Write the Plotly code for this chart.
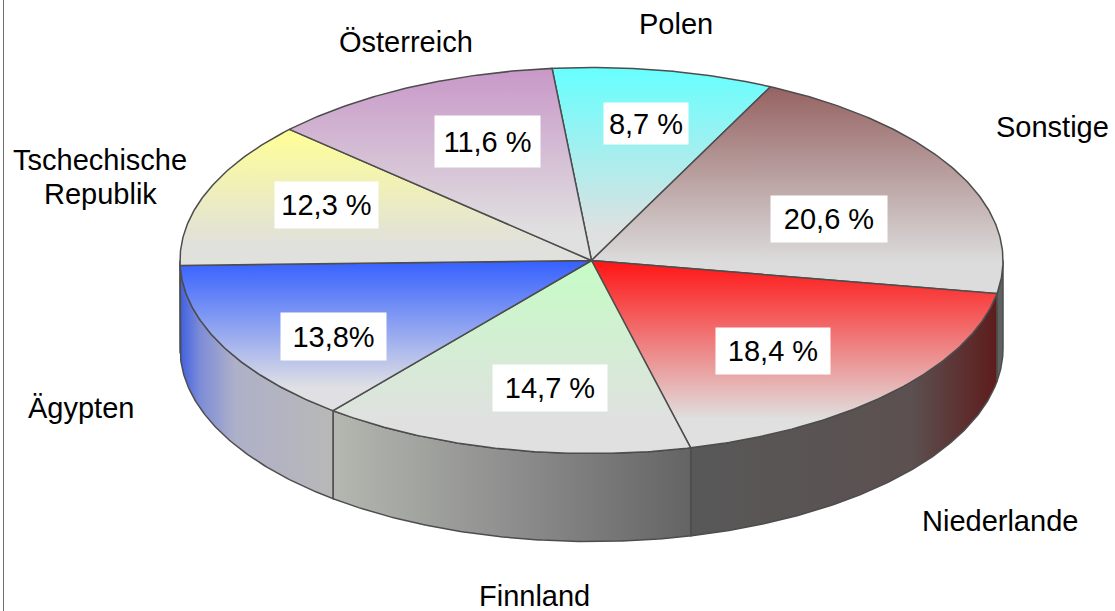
import numpy as np
import plotly.graph_objects as go

# ---- data (clockwise, starting at the Polen slice) ----
categories = ["Polen", "Sonstige", "Niederlande", "Finnland", "Ägypten", "Tschechische\nRepublik", "Österreich"]
values = [8.7, 20.6, 18.4, 14.7, 13.8, 12.3, 11.6]
value_labels = ["8,7 %", "20,6 %", "18,4 %", "14,7 %", "13,8%", "12,3 %", "11,6 %"]

# ---- style ----
top_colors = ["#66ffff", "#966262", "#ff1414", "#c6fcc6", "#3560ff", "#ffff96", "#c898c8"]
top_end = ["#dfe0e0", "#dcdcdc", "#e0e0e0", "#e0e0e0", "#e0e0e4", "#e0e0dc", "#e0e0e0"]
wall_scales = [
    [[0, "#666666"], [1, "#666666"]],
    [[0, "#5f6060"], [1, "#5f6060"]],
    [[0, "#585858"], [0.72, "#5c5050"], [1, "#5e1c1c"]],
    [[0, "#b4b8b0"], [0.5, "#8e8e8e"], [1, "#646464"]],
    [[0, "#3f60e0"], [0.13, "#7d8cd8"], [0.36, "#aeb0c8"], [1, "#b8b8b8"]],
    [[0, "#3f60e0"], [1, "#3f60e0"]],
    [[0, "#666666"], [1, "#666666"]],
]
CX, CY, A, B, DEPTH = 591.5, 260.5, 411.5, 193, 88
START = -5.5
EDGE = "#4d4d4d"
FONT = "Liberation Sans, Arial, sans-serif"
FS = 29
LINE_GAP = 34

label_pos = [(676, 24), (1052, 127), (1000, 521), (534, 596), (81, 408), (100, 177), (406, 42)]
box_pos = [(646, 123.5, 84, 41), (829, 218.5, 116, 46), (773, 350.5, 114, 46), (550, 388, 114, 46),
           (333.5, 336.5, 105, 47), (326.5, 205, 103, 46), (487.5, 141.5, 105, 51)]


def arc(a0, a1, dy=0.0):
    t = np.radians(np.linspace(a0, a1, max(int(abs(a1 - a0) * 2), 2)))
    return CX + A * np.sin(t), CY - B * np.cos(t) + dy


total = sum(values)
edges = START + np.concatenate([[0], np.cumsum(values)]) * 360.0 / total

fig = go.Figure()

# side walls (only the front half of the rim is visible)
for i in range(len(values)):
    a0, a1 = max(edges[i], 90), min(edges[i + 1], 270)
    if a1 <= a0:
        continue
    xt, yt = arc(a0, a1)
    xb, yb = arc(a1, a0, DEPTH)
    x = np.r_[xt, xb, xt[0]]
    y = np.r_[yt, yb, yt[0]]
    fig.add_trace(go.Scatter(
        x=x, y=y, mode="lines", fill="toself", hoverinfo="skip", showlegend=False,
        line=dict(color=EDGE, width=1.5),
        fillgradient=dict(type="horizontal", colorscale=wall_scales[i],
                          start=float(x.min()), stop=float(x.max())),
    ))

# top faces
for i in range(len(values)):
    xa, ya = arc(edges[i], edges[i + 1])
    x = np.r_[CX, xa, CX]
    y = np.r_[CY, ya, CY]
    fig.add_trace(go.Scatter(
        x=x, y=y, mode="lines", fill="toself", hoverinfo="skip", showlegend=False,
        line=dict(color=EDGE, width=1.5),
        fillgradient=dict(type="vertical",
                          colorscale=[[0, top_colors[i]], [0.85, top_end[i]], [1, top_end[i]]],
                          start=float(y.min()), stop=float(y.max())),
    ))

for name, (lx, ly) in zip(categories, label_pos):
    parts = name.split("\n")
    for k, part in enumerate(parts):
        fig.add_annotation(x=lx, y=ly + (k - (len(parts) - 1) / 2) * LINE_GAP, text=part, showarrow=False,
                           xanchor="center", yanchor="middle",
                           font=dict(family=FONT, size=FS, color="black"))
for txt, (bx, by, bw, bh) in zip(value_labels, box_pos):
    fig.add_annotation(x=bx, y=by, text=txt, showarrow=False, xanchor="center", yanchor="middle",
                       width=bw, height=bh, bgcolor="white", borderpad=0, align="center", valign="middle",
                       font=dict(family=FONT, size=FS, color="black"))

# frame line on the left edge
fig.add_shape(type="line", x0=3.5, x1=3.5, y0=0, y1=611, line=dict(color="#6e6e6e", width=1))

fig.update_layout(
    width=1115, height=611, margin=dict(l=0, r=0, t=0, b=0),
    paper_bgcolor="white", plot_bgcolor="white", showlegend=False,
    xaxis=dict(range=[0, 1115], visible=False, fixedrange=True),
    yaxis=dict(range=[611, 0], visible=False, fixedrange=True),
)
fig.write_html("out.html", post_script="document.body.style.margin='0';document.body.style.overflow='hidden';",
               config=dict(displayModeBar=False))
